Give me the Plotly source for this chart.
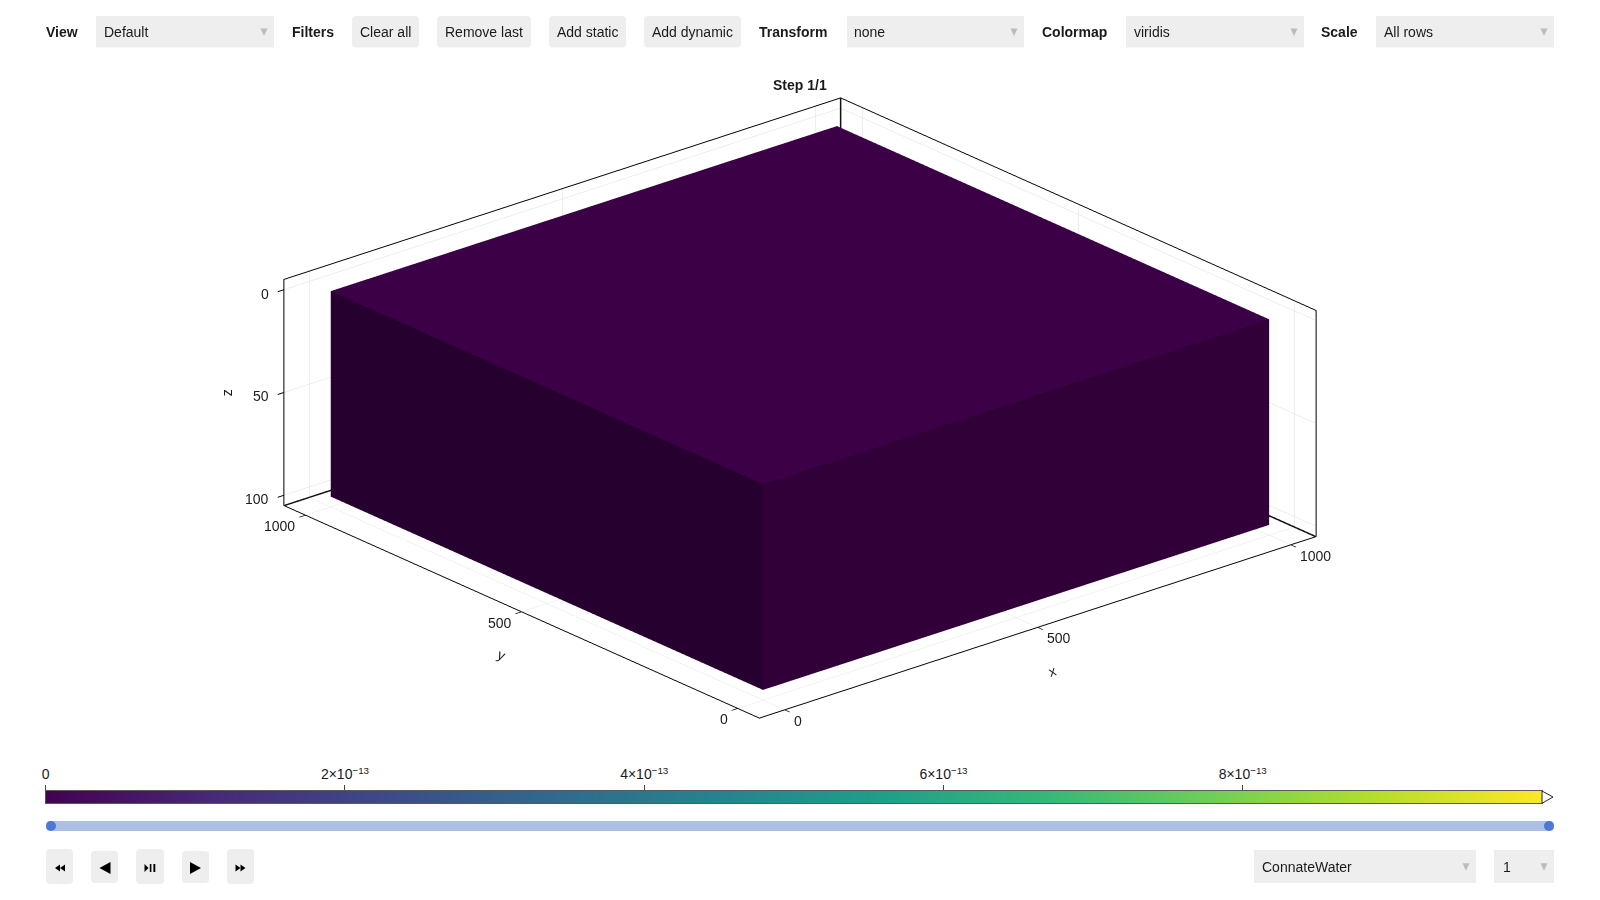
import plotly.graph_objects as go

# grid extents of the single cell block
x_edges = [0, 1000]
y_edges = [0, 1000]
z_edges = [0, 100]

# axis limits and ticks
x_range = [-50, 1050]
y_range = [-50, 1050]
z_range = [105, -5]
x_ticks = [0, 500, 1000]
y_ticks = [0, 500, 1000]
z_ticks = [0, 50, 100]

# colorbar
cbar_values = [0, 2e-13, 4e-13, 6e-13, 8e-13, 1e-12]
cbar_ticks = [0, 2e-13, 4e-13, 6e-13, 8e-13]
cbar_labels = ["0", "2×10<sup>−13</sup>", "4×10<sup>−13</sup>", "6×10<sup>−13</sup>", "8×10<sup>−13</sup>"]

W = 1600
H = 900
FONT = "Liberation Sans"
TEXT = "#1a1a1a"
CONTROL = "#eeeeee"

# shade of each cube side, viridis low end under the scene light
face_shades = {"top": "#3b0045", "left": "#26002e", "right": "#320039", "hidden": "#26002e"}


def px(x):
    return x / W


def py(y):
    return 1 - y / H


def rect_path(x0, y0, x1, y1, r=0):
    # pixel box to a paper path, r rounds the corners
    pts = [
        f"M {px(x0 + r)} {py(y0)}",
        f"L {px(x1 - r)} {py(y0)}",
        f"Q {px(x1)} {py(y0)} {px(x1)} {py(y0 + r)}",
        f"L {px(x1)} {py(y1 - r)}",
        f"Q {px(x1)} {py(y1)} {px(x1 - r)} {py(y1)}",
        f"L {px(x0 + r)} {py(y1)}",
        f"Q {px(x0)} {py(y1)} {px(x0)} {py(y1 - r)}",
        f"L {px(x0)} {py(y0 + r)}",
        f"Q {px(x0)} {py(y0)} {px(x0 + r)} {py(y0)}",
        "Z",
    ]
    return " ".join(pts)


def poly_path(points):
    return "M " + " L ".join(f"{px(x)} {py(y)}" for x, y in points) + " Z"


def filled(path, color, line=None):
    return dict(
        type="path", xref="paper", yref="paper", path=path, fillcolor=color,
        line=dict(color=line or color, width=1 if line else 0),
    )


def label(x, y, text, bold=False, anchor="left", size=14):
    return dict(
        xref="paper", yref="paper", x=px(x), y=py(y), text=f"<b>{text}</b>" if bold else text,
        showarrow=False, xanchor=anchor, yanchor="middle",
        font=dict(family=FONT, size=size, color=TEXT), borderpad=0, borderwidth=0,
    )


shapes = []
annotations = []


def add_select(x0, x1, y0, y1, text, text_x):
    shapes.append(filled(rect_path(x0, y0, x1, y1), CONTROL))
    cx = x1 - 10
    cy = (y0 + y1) / 2 + 0.5
    shapes.append(filled(poly_path([(cx - 3.5, cy - 3.7), (cx + 3.5, cy - 3.7), (cx, cy + 3.7)]), "#bcbcbc"))
    annotations.append(label(text_x, (y0 + y1) / 2, text))


def add_button(x0, x1, text):
    shapes.append(filled(rect_path(x0, 16, x1, 47.5, 4), CONTROL))
    annotations.append(label((x0 + x1) / 2, 32, text, anchor="center"))


# top control row
annotations.append(label(46, 32, "View", bold=True))
add_select(96, 274, 16, 47.5, "Default", 104)
annotations.append(label(292, 32, "Filters", bold=True))
add_button(352, 419, "Clear all")
add_button(437, 531, "Remove last")
add_button(549, 626, "Add static")
add_button(644, 741, "Add dynamic")
annotations.append(label(759, 32, "Transform", bold=True))
add_select(847, 1024, 16, 47.5, "none", 854)
annotations.append(label(1042, 32, "Colormap", bold=True))
add_select(1126, 1304, 16, 47.5, "viridis", 1133.5)
annotations.append(label(1321, 32, "Scale", bold=True))
add_select(1376, 1554, 16, 47.5, "All rows", 1384)
annotations.append(label(800, 85, "Step 1/1", bold=True, anchor="center"))

# slider under the colorbar
shapes.append(filled(rect_path(46, 821, 1554, 831, 4), "#aebfe6"))
for knob_x in (51, 1549):
    shapes.append(dict(
        type="circle", xref="paper", yref="paper", fillcolor="#4d78d6", line=dict(width=0),
        x0=px(knob_x - 5), x1=px(knob_x + 5), y0=py(831), y1=py(821),
    ))

# colorbar high end arrow
shapes.append(filled(poly_path([(1542, 791), (1553, 797), (1542, 803.3)]), "#ffffff", line="#222222"))

# playback buttons
for x0, x1, y0, y1 in [(46, 73, 849, 884), (91, 118, 851, 883), (136, 164, 849, 884), (182, 209, 851, 883), (227, 254, 849, 884)]:
    shapes.append(filled(rect_path(x0, y0, x1, y1, 4), CONTROL))
icons = [
    [(60, 864.5), (60, 871.5), (55, 868)],
    [(65, 864.5), (65, 871.5), (60, 868)],
    [(110.5, 862), (110.5, 874), (99.5, 868)],
    [(144.5, 864), (144.5, 872), (148.5, 868)],
    [(149.8, 864), (151.4, 864), (151.4, 872), (149.8, 872)],
    [(153.4, 864), (155.3, 864), (155.3, 872), (153.4, 872)],
    [(190, 862), (190, 874), (201, 868)],
    [(235.5, 864.5), (235.5, 871.5), (240.5, 868)],
    [(240.5, 864.5), (240.5, 871.5), (245.5, 868)],
]
for icon in icons:
    shapes.append(filled(poly_path(icon), "#000000"))

# selectors bottom right
add_select(1254, 1476, 850, 883, "ConnateWater", 1262)
add_select(1494, 1554, 850, 883, "1", 1502.5)

# cube corners and triangles
vx = [x_edges[a] for a in (0, 1, 1, 0, 0, 1, 1, 0)]
vy = [y_edges[a] for a in (0, 0, 1, 1, 0, 0, 1, 1)]
vz = [z_edges[a] for a in (0, 0, 0, 0, 1, 1, 1, 1)]
tri_i = [0, 0, 4, 4, 0, 0, 3, 3, 0, 0, 1, 1]
tri_j = [1, 2, 5, 6, 1, 5, 2, 6, 3, 7, 2, 6]
tri_k = [2, 3, 6, 7, 5, 4, 6, 7, 7, 4, 6, 5]
tri_color = (
    [face_shades["top"]] * 2 + [face_shades["hidden"]] * 2 + [face_shades["right"]] * 2
    + [face_shades["hidden"]] * 2 + [face_shades["left"]] * 2 + [face_shades["hidden"]] * 2
)

fig = go.Figure()
fig.add_trace(go.Mesh3d(
    x=vx, y=vy, z=vz, i=tri_i, j=tri_j, k=tri_k, facecolor=tri_color, flatshading=True,
    lighting=dict(ambient=1, diffuse=0, specular=0, fresnel=0, roughness=1),
    hoverinfo="skip", showscale=False,
))

# back vertical and the two back floor edges, the axis lines cover the rest of the box
# pulled a hair inside the limits, otherwise the scene clips them in pieces
x0, x1 = x_range
y0, y1 = y_range
zb, zt = z_range
ex, ey, ez = x1 - 1, y1 - 1, zb - 0.1
frame_x = [ex, ex, None, x0 + 1, ex, ex]
frame_y = [ey, ey, None, ey, ey, y0 + 1]
frame_z = [zt + 0.1, ez, None, ez, ez, ez]
fig.add_trace(go.Scatter3d(
    x=frame_x, y=frame_y, z=frame_z, mode="lines", line=dict(color="#111111", width=3),
    hoverinfo="skip", showlegend=False,
))

# colorbar as a heatmap on its own cartesian axis
fig.add_trace(go.Heatmap(
    x=cbar_values, y=[0, 1], z=[cbar_values, cbar_values], colorscale="Viridis",
    zmin=0, zmax=1e-12, zsmooth="best", showscale=False, hoverinfo="skip",
))

axis_style = dict(
    title=dict(text=""), showbackground=False, showgrid=True, gridcolor="#dddddd", gridwidth=1,
    zeroline=False, showline=True, mirror=True, linecolor="#000000", linewidth=2,
    ticks="outside", ticklen=8, tickcolor="#000000", tickwidth=2,
    showticklabels=False, showspikes=False, tickmode="array",
)

scene_labels = [
    dict(x=500, y=y0, z=zb, text="x", textangle=-18, xshift=15, yshift=-44),
    dict(x=x0, y=500, z=zb, text="y", textangle=24, xshift=-20, yshift=-43),
    dict(x=x0, y=y1, z=50, text="z", textangle=-90, xshift=-56),
]
for tick in x_ticks:
    scene_labels.append(dict(x=tick, y=y0, z=zb, text=str(tick), xanchor="left", xshift=7.5, yshift=-11))
for tick in y_ticks:
    scene_labels.append(dict(x=x0, y=tick, z=zb, text=str(tick), xanchor="right", xshift=-8, yshift=-11))
for tick in z_ticks:
    scene_labels.append(dict(x=x0, y=y1, z=tick, text=str(tick), xanchor="right", xshift=-12.5, yshift=-4))
for item in scene_labels:
    item["showarrow"] = False
    item["font"] = dict(family=FONT, size=14, color=TEXT)

fig.update_layout(
    width=W,
    height=H,
    margin=dict(l=0, r=0, t=0, b=0),
    paper_bgcolor="#ffffff",
    plot_bgcolor="#ffffff",
    showlegend=False,
    shapes=shapes,
    annotations=annotations,
    scene=dict(
        domain=dict(x=[0, 1], y=[py(760), py(56)]),
        aspectmode="manual",
        aspectratio=dict(x=2.08, y=2.08, z=0.695),
        camera=dict(
            projection=dict(type="orthographic"),
            eye=dict(x=-0.959, y=-1.123, z=0.61),
            up=dict(x=0, y=0, z=1),
            center=dict(x=0, y=0, z=0),
        ),
        xaxis=dict(axis_style, range=x_range, tickvals=x_ticks),
        yaxis=dict(axis_style, range=y_range, tickvals=y_ticks),
        zaxis=dict(axis_style, range=z_range, tickvals=z_ticks),
        annotations=scene_labels,
    ),
    xaxis=dict(
        domain=[px(45.7), px(1542)], range=[0, 1e-12], side="top", anchor="y", tickmode="array",
        tickvals=cbar_ticks, ticktext=cbar_labels, ticks="outside", ticklen=5, tickcolor="#444444",
        showline=True, mirror=True, linecolor="rgba(0,0,0,0.65)", linewidth=1, showgrid=False, zeroline=False,
        tickfont=dict(family=FONT, size=14, color=TEXT), automargin=False,
    ),
    yaxis=dict(
        domain=[py(803.3), py(791)], range=[0, 1], anchor="x", showticklabels=False, ticks="",
        showline=True, mirror=True, linecolor="rgba(0,0,0,0.65)", linewidth=1, showgrid=False, zeroline=False,
        automargin=False,
    ),
)

fig.write_html("out.html", config={"displayModeBar": False}, post_script="document.body.style.margin='0'")
